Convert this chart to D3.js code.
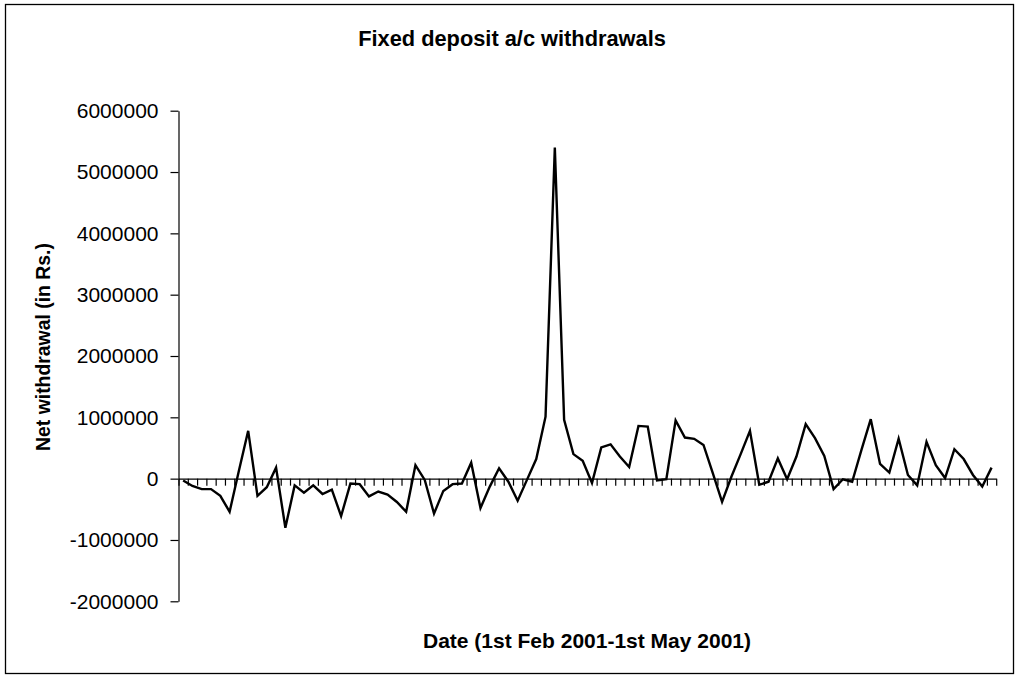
<!DOCTYPE html>
<html>
<head>
<meta charset="utf-8">
<script src="https://cdn.jsdelivr.net/npm/d3@7"></script>
<style>
  html, body { margin: 0; padding: 0; background: #fff; }
  svg { display: block; }
  text { font-family: "Liberation Sans", Arial, sans-serif; fill: #000; }
</style>
</head>
<body>
<svg id="chart" width="1019" height="679"></svg>
<script>
const title = "Fixed deposit a/c withdrawals";
const xLabel = "Date (1st Feb 2001-1st May 2001)";
const yLabel = "Net withdrawal (in Rs.)";

const values = [
  -30000, -120000, -170000, -170000, -280000, -540000, 130000, 780000, -280000, -140000,
  180000, -800000, -110000, -230000, -110000, -250000, -180000, -610000, -80000, -90000,
  -290000, -210000, -260000, -380000, -540000, 220000, -20000, -570000, -200000, -90000,
  -80000, 260000, -480000, -130000, 170000, -50000, -360000, -20000, 320000, 1010000,
  5400000, 960000, 400000, 290000, -70000, 510000, 560000, 360000, 190000, 860000,
  850000, -30000, -10000, 950000, 670000, 650000, 550000, 90000, -380000, 30000,
  400000, 780000, -100000, -50000, 330000, -10000, 360000, 890000, 660000, 370000,
  -170000, -10000, -50000, 470000, 970000, 240000, 100000, 650000, 60000, -110000,
  600000, 220000, 10000, 480000, 320000, 60000, -130000, 180000
];
const categories = values.map((_, i) => i + 1);
const yTicks = [-2000000, -1000000, 0, 1000000, 2000000, 3000000, 4000000, 5000000, 6000000];

(function draw() {
  const svg = d3.select("#chart");

  // outer border
  svg.append("rect")
    .attr("x", 5.5).attr("y", 4.5).attr("width", 1008).attr("height", 669)
    .attr("fill", "none").attr("stroke", "#000").attr("stroke-width", 1.3);

  const pLeft = 178.5, pRight = 996.2, pTop = 110.7, pBottom = 601.3;

  const x = d3.scaleBand().domain(categories).range([pLeft, pRight]).padding(0);
  const xEdges = d3.scaleLinear().domain([0, categories.length]).range([pLeft, pRight]);
  const y = d3.scaleLinear().domain([-2000000, 6000000]).range([pBottom, pTop]);

  // y axis
  const yAxis = svg.append("g")
    .attr("transform", `translate(${pLeft},0)`)
    .call(d3.axisLeft(y).tickValues(yTicks).tickSize(8).tickSizeOuter(0).tickPadding(12)
      .tickFormat(d => String(d)));
  yAxis.selectAll("path, line").attr("stroke", "#000").attr("stroke-width", 1.2);
  yAxis.selectAll("text")
    .style("font-size", "21px")
    .style("font-family", '"Liberation Sans", Arial, sans-serif')
    .attr("fill", "#000");

  // x axis at zero, ticks at category boundaries
  const xAxis = svg.append("g")
    .attr("transform", `translate(0,${y(0)})`)
    .call(d3.axisBottom(xEdges).tickValues(d3.range(categories.length + 1)).tickSize(7)
      .tickSizeOuter(0).tickFormat(""));
  xAxis.selectAll("path, line").attr("stroke", "#000").attr("stroke-width", 1.2);

  // data line
  const line = d3.line()
    .x((d, i) => x(categories[i]) + x.bandwidth() / 2)
    .y(d => y(d));
  svg.append("path")
    .datum(values)
    .attr("d", line)
    .attr("fill", "none")
    .attr("stroke", "#000")
    .attr("stroke-width", 2.4)
    .attr("stroke-linejoin", "miter");

  // title
  svg.append("text")
    .attr("x", 512).attr("y", 46)
    .attr("text-anchor", "middle")
    .style("font-size", "21.8px").style("font-weight", "bold")
    .text(title);

  // x label
  svg.append("text")
    .attr("x", 587).attr("y", 647.5)
    .attr("text-anchor", "middle")
    .style("font-size", "21px").style("font-weight", "bold")
    .text(xLabel);

  // y label
  svg.append("text")
    .attr("transform", "translate(50,347) rotate(-90)")
    .attr("text-anchor", "middle")
    .style("font-size", "19.4px").style("font-weight", "bold")
    .text(yLabel);
})();
</script>
</body>
</html>
